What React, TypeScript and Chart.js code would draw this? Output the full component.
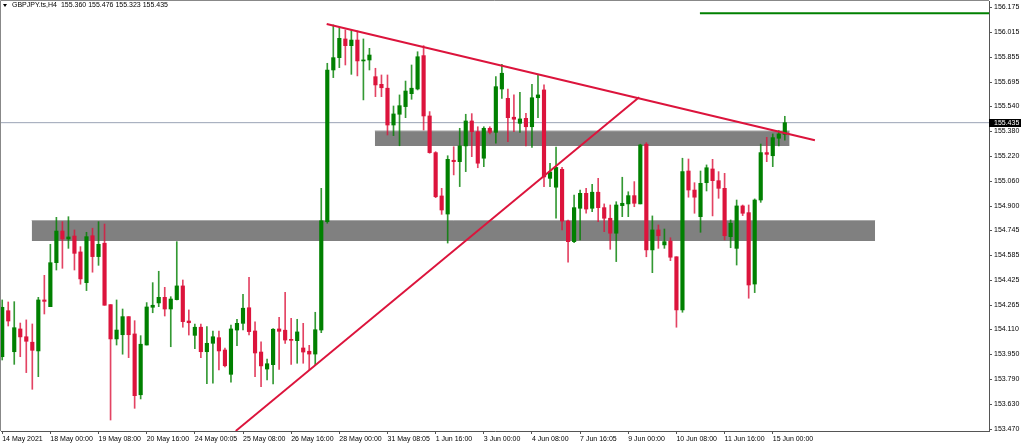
import React, { useEffect, useRef } from 'react';
import { Chart, registerables } from 'chart.js';

Chart.register(...registerables);

const symbolTitle = 'GBPJPY.ts,H4';
const lastBar = ['155.360', '155.476', '155.323', '155.435'];

const opens = [
  153.934, 154.229, 153.966, 154.112, 154.062, 154.027, 153.971, 154.298, 154.255, 154.537,
  154.740, 154.689, 154.708, 154.606, 154.409, 154.710, 154.576, 154.662, 154.268, 154.048,
  154.075, 154.191, 154.080, 153.690, 154.009, 154.251, 154.279, 154.315, 154.240, 154.300,
  154.388, 154.163, 154.071, 154.123, 153.966, 154.020, 154.056, 153.977, 153.821, 154.105,
  154.148, 154.248, 154.099, 153.964, 153.855, 153.883, 154.112, 154.104, 154.041, 154.037,
  153.990, 153.969, 153.951, 154.105, 154.800, 155.773, 155.852, 155.972, 155.929, 155.965,
  155.831, 155.837, 155.730, 155.681, 155.656, 155.420, 155.489, 155.538, 155.621, 155.651,
  155.865, 155.478, 155.243, 154.965, 154.849, 155.194, 155.185, 155.286, 155.446, 155.377,
  155.207, 155.399, 155.373, 155.651, 155.591, 155.470, 155.431, 155.463, 155.409, 155.595,
  155.645, 155.078, 155.021, 155.136, 154.804, 154.672, 154.886, 154.982, 154.886, 154.989,
  154.890, 154.822, 154.726, 154.903, 154.914, 154.967, 154.914, 155.297, 154.619, 154.747,
  154.651, 154.676, 154.575, 154.234, 155.125, 155.003, 154.832, 155.050, 155.138, 155.063,
  155.014, 154.704, 154.629, 154.901, 154.858, 154.400, 154.939, 155.243, 155.223, 155.335,
  155.360,
];

const highs = [
  154.298, 154.285, 154.287, 154.150, 154.170, 154.144, 154.315, 154.456, 154.655, 154.828,
  154.800, 154.832, 154.747, 154.640, 154.732, 154.758, 154.800, 154.785, 154.268, 154.298,
  154.240, 154.191, 154.165, 154.069, 154.281, 154.409, 154.482, 154.379, 154.319, 154.672,
  154.426, 154.234, 154.144, 154.144, 154.127, 154.099, 154.099, 153.990, 154.137, 154.174,
  154.334, 154.443, 154.157, 154.030, 153.918, 154.114, 154.187, 154.347, 154.180, 154.174,
  154.148, 154.007, 154.219, 155.014, 155.816, 156.062, 156.044, 156.030, 156.030, 156.023,
  155.972, 155.912, 155.784, 155.741, 155.741, 155.542, 155.613, 155.702, 155.805, 155.890,
  155.929, 155.506, 155.249, 155.014, 155.223, 155.281, 155.399, 155.489, 155.493, 155.409,
  155.409, 155.409, 155.730, 155.810, 155.651, 155.613, 155.630, 155.495, 155.681, 155.741,
  155.677, 155.175, 155.279, 155.149, 154.811, 154.971, 155.003, 155.014, 155.040, 155.078,
  154.914, 154.907, 154.928, 155.085, 154.992, 155.057, 155.297, 155.307, 154.837, 154.779,
  154.753, 154.697, 154.575, 155.207, 155.202, 155.050, 155.125, 155.164, 155.200, 155.121,
  155.110, 154.811, 154.939, 154.907, 154.907, 154.946, 155.298, 155.341, 155.363, 155.384,
  155.476,
];

const lows = [
  153.913, 154.131, 153.885, 153.934, 153.832, 153.725, 153.806, 154.208, 154.255, 154.490,
  154.501, 154.629, 154.490, 154.399, 154.358, 154.476, 154.520, 154.264, 153.528, 154.009,
  153.950, 153.928, 153.603, 153.663, 154.009, 154.216, 154.255, 154.195, 153.998, 154.298,
  154.123, 154.073, 153.986, 153.928, 153.761, 153.764, 153.849, 153.868, 153.770, 154.005,
  154.105, 154.073, 153.806, 153.742, 153.785, 153.759, 153.853, 154.020, 153.885, 153.892,
  153.892, 153.849, 153.881, 154.088, 154.790, 155.724, 155.788, 155.805, 155.745, 155.735,
  155.581, 155.773, 155.602, 155.602, 155.356, 155.352, 155.287, 155.467, 155.585, 155.645,
  155.388, 155.239, 154.954, 154.847, 154.663, 155.100, 155.025, 155.121, 155.217, 155.146,
  155.153, 155.363, 155.303, 155.591, 155.313, 155.377, 155.373, 155.286, 155.277, 155.467,
  155.025, 155.025, 154.822, 154.747, 154.540, 154.665, 154.683, 154.854, 154.864, 154.800,
  154.736, 154.623, 154.544, 154.832, 154.832, 154.896, 154.914, 154.575, 154.473, 154.629,
  154.629, 154.550, 154.123, 154.219, 154.957, 154.854, 154.732, 154.997, 154.837, 154.950,
  154.683, 154.633, 154.522, 154.839, 154.309, 154.345, 154.924, 155.185, 155.153, 155.286,
  155.323,
];

const closes = [
  154.251, 154.163, 154.120, 154.061, 154.033, 153.975, 154.298, 154.289, 154.537, 154.740,
  154.689, 154.702, 154.597, 154.433, 154.704, 154.576, 154.655, 154.264, 154.048, 154.105,
  154.191, 154.075, 153.684, 154.014, 154.253, 154.264, 154.315, 154.240, 154.304, 154.388,
  154.159, 154.152, 154.123, 153.966, 154.020, 154.062, 153.971, 153.876, 154.112, 154.148,
  154.245, 154.095, 153.958, 153.875, 153.889, 154.110, 154.097, 154.041, 154.039, 154.093,
  153.964, 153.951, 154.107, 154.806, 155.773, 155.852, 155.976, 155.929, 155.965, 155.831,
  155.837, 155.869, 155.677, 155.659, 155.420, 155.491, 155.544, 155.638, 155.656, 155.858,
  155.478, 155.243, 154.960, 154.875, 155.200, 155.185, 155.286, 155.446, 155.377, 155.175,
  155.399, 155.373, 155.666, 155.752, 155.467, 155.457, 155.459, 155.409, 155.595, 155.613,
  155.087, 155.119, 155.148, 154.804, 154.672, 154.890, 154.982, 154.881, 154.989, 154.890,
  154.822, 154.726, 154.907, 154.918, 154.967, 154.918, 155.292, 154.619, 154.747, 154.710,
  154.672, 154.572, 154.234, 155.121, 155.003, 154.957, 155.046, 155.146, 155.063, 155.014,
  154.710, 154.790, 154.901, 154.854, 154.394, 154.939, 155.243, 155.232, 155.339, 155.363,
  155.435,
];

const xTickIndex = [0, 8, 16, 24, 32, 40, 48, 56, 64, 72, 80, 88, 96, 104, 112, 120, 128];
const xTickLabels = [
  '14 May 2021', '18 May 00:00', '19 May 08:00', '20 May 16:00', '24 May 00:05',
  '25 May 08:00', '26 May 16:00', '28 May 00:00', '31 May 08:05', '1 Jun 16:00',
  '3 Jun 00:00', '4 Jun 08:00', '7 Jun 16:05', '9 Jun 00:00', '10 Jun 08:00',
  '11 Jun 16:00', '15 Jun 00:00',
];

const yTickValues = [
  153.470, 153.630, 153.790, 153.950, 154.110, 154.265, 154.425, 154.585, 154.745,
  154.900, 155.060, 155.220, 155.380, 155.540, 155.695, 155.855, 156.015, 156.175,
];

// visible range (bar index / price)
const xMin = -0.2;
const xMax = 163.92;
const yMin = 153.4575;
const yMax = 156.2154;

// grey support / resistance zones
const zoneStart = [61.9, 4.9];
const zoneEnd = [130.8, 145.0];
const zoneTop = [155.382, 154.8075];
const zoneBottom = [155.285, 154.676];

// red trend lines
const trendFromX = [53.9, 38.8];
const trendFromY = [156.068, 153.458];
const trendToX = [135.0, 105.8];
const trendToY = [155.322, 155.598];

// green horizontal level
const levelFromX = 115.9;
const levelPrice = 156.137;

const lastPrice = 155.435;

const UP = '#008000';
const DOWN = '#DC143C';
const UP_WICK = 'rgba(0,128,0,0.8)';
const DOWN_WICK = 'rgba(220,20,60,0.8)';
const AXIS = '#555';
const FONT = '"Liberation Sans", Arial, sans-serif';

const overlayPlugin = {
  id: 'mt4Overlay',
  afterDraw(chart: any) {
    const { ctx, chartArea, scales } = chart;
    ctx.save();
    ctx.strokeStyle = '#888';
    ctx.lineWidth = 1;
    ctx.beginPath();
    ctx.moveTo(chartArea.left - 0.5, chartArea.bottom);
    ctx.lineTo(chartArea.left - 0.5, chartArea.top - 0.5);
    ctx.lineTo(chartArea.right, chartArea.top - 0.5);
    ctx.stroke();
    const y = scales.y.getPixelForValue(lastPrice);
    ctx.fillStyle = '#000';
    ctx.fillRect(chartArea.right, Math.round(y) - 4, 32, 8);
    ctx.fillStyle = '#fff';
    ctx.font = '7px ' + FONT;
    ctx.textBaseline = 'middle';
    ctx.textAlign = 'left';
    ctx.fillText(lastPrice.toFixed(3), chartArea.right + 5, Math.round(y));
    ctx.restore();
  },
};

export default function App() {
  const canvasRef = useRef<HTMLCanvasElement | null>(null);

  useEffect(() => {
    const canvas = canvasRef.current;
    if (!canvas) return;
    const isUp = opens.map((o, i) => closes[i] >= o);

    const zoneSets = zoneStart.map((s, k) => ({
      type: 'line' as const,
      data: [
        { x: s, y: zoneTop[k] },
        { x: zoneEnd[k], y: zoneTop[k] },
      ],
      borderColor: '#a8a8a8',
      borderWidth: 1,
      pointRadius: 0,
      fill: { target: { value: zoneBottom[k] }, above: '#808080', below: '#808080' },
      backgroundColor: '#808080',
      order: 10,
    }));

    const trendSets = trendFromX.map((fx, k) => ({
      type: 'line' as const,
      data: [
        { x: fx, y: trendFromY[k] },
        { x: trendToX[k], y: trendToY[k] },
      ],
      borderColor: DOWN,
      borderWidth: 2,
      pointRadius: 0,
      fill: false,
      order: 1,
    }));

    const chart = new Chart(canvas, {
      type: 'bar',
      data: {
        datasets: [
          ...zoneSets,
          {
            type: 'line',
            data: [
              { x: xMin, y: lastPrice },
              { x: xMax, y: lastPrice },
            ],
            borderColor: '#9aa3b5',
            borderWidth: 1,
            pointRadius: 0,
            fill: false,
            order: 9,
          },
          {
            type: 'bar',
            data: opens.map((_, i) => ({ x: i, y: [lows[i], highs[i]] })),
            backgroundColor: isUp.map((u) => (u ? UP_WICK : DOWN_WICK)),
            borderWidth: 0,
            barThickness: 1,
            grouped: false,
            order: 5,
          },
          {
            type: 'bar',
            data: opens.map((o, i) => ({ x: i, y: [o, closes[i]] })),
            backgroundColor: isUp.map((u) => (u ? UP : DOWN)),
            borderWidth: 0,
            barThickness: 3.5,
            minBarLength: 1,
            grouped: false,
            order: 4,
          },
          ...trendSets,
          {
            type: 'line',
            data: [
              { x: levelFromX, y: levelPrice },
              { x: xMax, y: levelPrice },
            ],
            borderColor: UP,
            borderWidth: 2,
            pointRadius: 0,
            fill: false,
            order: 1,
          },
        ] as any,
      },
      options: {
        responsive: false,
        maintainAspectRatio: false,
        animation: false,
        events: [],
        layout: { padding: { left: 1, top: 1, right: 0, bottom: 0 } },
        plugins: {
          legend: { display: false },
          tooltip: { enabled: false },
        },
        scales: {
          x: {
            type: 'linear',
            min: xMin,
            max: xMax,
            offset: false,
            position: 'bottom',
            grid: { drawOnChartArea: false, drawTicks: true, tickLength: 3, color: AXIS, offset: false },
            border: { display: true, color: AXIS },
            ticks: {
              autoSkip: false,
              maxRotation: 0,
              minRotation: 0,
              align: 'start',
              padding: 1,
              color: '#000',
              font: { family: FONT, size: 7 },
              callback: (_v: any, idx: number) => xTickLabels[idx] ?? '',
            },
            afterBuildTicks: (s: any) => {
              s.ticks = xTickIndex.map((v) => ({ value: v }));
            },
            afterFit: (s: any) => {
              s.height = 16;
              s.paddingLeft = 0;
              s.paddingRight = 0;
            },
          },
          y: {
            type: 'linear',
            position: 'right',
            min: yMin,
            max: yMax,
            grid: { drawOnChartArea: false, drawTicks: true, tickLength: 3, color: AXIS },
            border: { display: true, color: AXIS },
            ticks: {
              padding: 2,
              color: '#000',
              font: { family: FONT, size: 7 },
              callback: (v: any) => Number(v).toFixed(3),
            },
            afterBuildTicks: (s: any) => {
              s.ticks = yTickValues.map((v) => ({ value: v }));
            },
            afterFit: (s: any) => {
              s.width = 35;
              s.paddingTop = 0;
              s.paddingBottom = 0;
            },
          },
        } as any,
      },
      plugins: [overlayPlugin],
    });

    return () => chart.destroy();
  }, []);

  return (
    <div style={{ position: 'absolute', left: 0, top: 0, width: 1024, height: 447, background: '#fff' }}>
      <canvas ref={canvasRef} width={1024} height={447} style={{ display: 'block' }} />
      <div
        style={{
          position: 'absolute',
          left: 3,
          top: 0,
          height: 10,
          lineHeight: '10px',
          fontFamily: FONT,
          fontSize: 7,
          color: '#000',
          whiteSpace: 'pre',
        }}
      >
        <span
          style={{
            display: 'inline-block',
            width: 0,
            height: 0,
            borderLeft: '2.5px solid transparent',
            borderRight: '2.5px solid transparent',
            borderTop: '3px solid #000',
            marginRight: 5,
            verticalAlign: 'middle',
          }}
        />
        {symbolTitle + '  ' + lastBar.join(' ')}
      </div>
    </div>
  );
}
